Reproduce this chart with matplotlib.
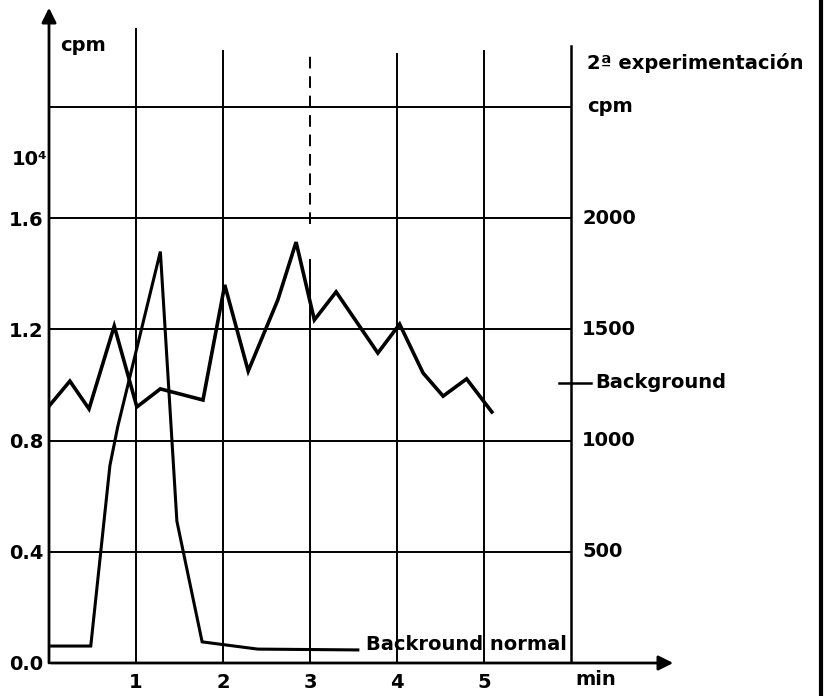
import matplotlib
matplotlib.use("Agg")
import matplotlib.pyplot as plt
from matplotlib.lines import Line2D

# curva con el pico (escala izquierda, x 10^4 cpm)
t_pico = [0.03, 0.48, 0.70, 0.79, 1.28, 1.47, 1.76, 2.40, 3.55]
cpm_pico = [0.061, 0.061, 0.71, 0.85, 1.48, 0.51, 0.076, 0.050, 0.047]

# background de la 2a experimentacion (misma escala)
t_bg = [0.0, 0.24, 0.46, 0.75, 1.01, 1.28, 1.77, 2.02, 2.29, 2.63,
        2.84, 3.05, 3.30, 3.78, 4.03, 4.30, 4.53, 4.80, 5.09]
cpm_bg = [0.924, 1.014, 0.914, 1.212, 0.921, 0.986, 0.946, 1.360, 1.050, 1.306,
          1.514, 1.234, 1.335, 1.115, 1.219, 1.043, 0.960, 1.022, 0.903]

# ejes
x_ticks = [1, 2, 3, 4, 5]
y_ticks = [0.0, 0.4, 0.8, 1.2, 1.6]
y_labels = ["0.0", "0.4", "0.8", "1.2", "1.6"]
right_ticks = [500, 1000, 1500, 2000]
factor_derecho = 1250.0   # cpm de la derecha por unidad de la izquierda
nivel_background = 1260   # cpm, marca de la derecha

W, H = 828, 696
fig = plt.figure(figsize=(W / 100, H / 100), dpi=100)
x0, y0, x1, y1 = 49, 663, 676, 5
ax = fig.add_axes([x0 / W, (H - y0) / H, (x1 - x0) / W, (y0 - y1) / H])
xmax = (x1 - x0) / 87.0
ymax = (y0 - y1) / 278.0
ax.set_xlim(0, xmax)
ax.set_ylim(0, ymax)
for s in ax.spines.values():
    s.set_visible(False)

lw_grid = 1.4
# lineas horizontales
for y in [0.4, 0.8, 1.2, 1.6, 2.0]:
    ax.plot([0, 6], [y, y], color="k", lw=lw_grid)
# lineas verticales
tops = {1: 2.28, 2: 2.20, 3: 2.21, 4: 2.19, 5: 2.2}
for x in x_ticks:
    if x == 3:
        ax.plot([x, x], [0, 1.45], color="k", lw=lw_grid)
        ax.plot([x, x], [1.58, tops[x]], color="k", lw=lw_grid, ls=(0, (6, 4)))
    else:
        ax.plot([x, x], [0, tops[x]], color="k", lw=lw_grid)
ax.plot([6, 6], [0, 2.22], color="k", lw=1.8)

# ejes con flecha
ax.annotate("", xy=(0, ymax), xytext=(0, -0.01),
            arrowprops=dict(arrowstyle="-|>", lw=2, color="k", mutation_scale=22))
ax.annotate("", xy=(xmax, 0), xytext=(-0.01, 0),
            arrowprops=dict(arrowstyle="-|>", lw=2, color="k", mutation_scale=22))

# datos
ax.plot(t_pico, cpm_pico, color="k", lw=2.2, solid_joinstyle="miter")
ax.plot(t_bg, cpm_bg, color="k", lw=2.6, solid_joinstyle="miter")

fs = 14
ax.set_xticks(x_ticks)
ax.set_xticklabels([str(v) for v in x_ticks], fontsize=fs, fontweight="bold")
ax.set_yticks(y_ticks)
ax.set_yticklabels(y_labels, fontsize=fs, fontweight="bold")
ax.tick_params(length=0)
ax.tick_params(axis="x", pad=7)
ax.tick_params(axis="y", pad=4)

# textos
ax.text(0.13, 2.22, "cpm", fontsize=fs, fontweight="bold", va="center")
ax.text(-0.43, 1.81, "10⁴", fontsize=fs, fontweight="bold", va="center", ha="left")
ax.text(6.05, -0.06, "min", fontsize=fs, fontweight="bold", va="center")
ax.text(6.18, 2.16, "2ª experimentación", fontsize=fs, fontweight="bold", va="center")
ax.text(6.18, 2.0, "cpm", fontsize=fs, fontweight="bold", va="center")
for v in right_ticks:
    ax.text(6.13, v / factor_derecho, str(v), fontsize=fs, fontweight="bold", va="center")

yb = nivel_background / factor_derecho
ax.plot([5.86, 6.23], [yb, yb], color="k", lw=1.8, clip_on=False)
ax.text(6.28, yb, "Background", fontsize=fs, fontweight="bold", va="center")
ax.text(3.64, 0.045, "Backround normal", fontsize=fs, fontweight="bold", va="baseline")

# borde derecho de la hoja
fig.add_artist(Line2D([821 / W, 821 / W], [0, 1], color="k", lw=3))

fig.savefig("out.png", dpi=100)
